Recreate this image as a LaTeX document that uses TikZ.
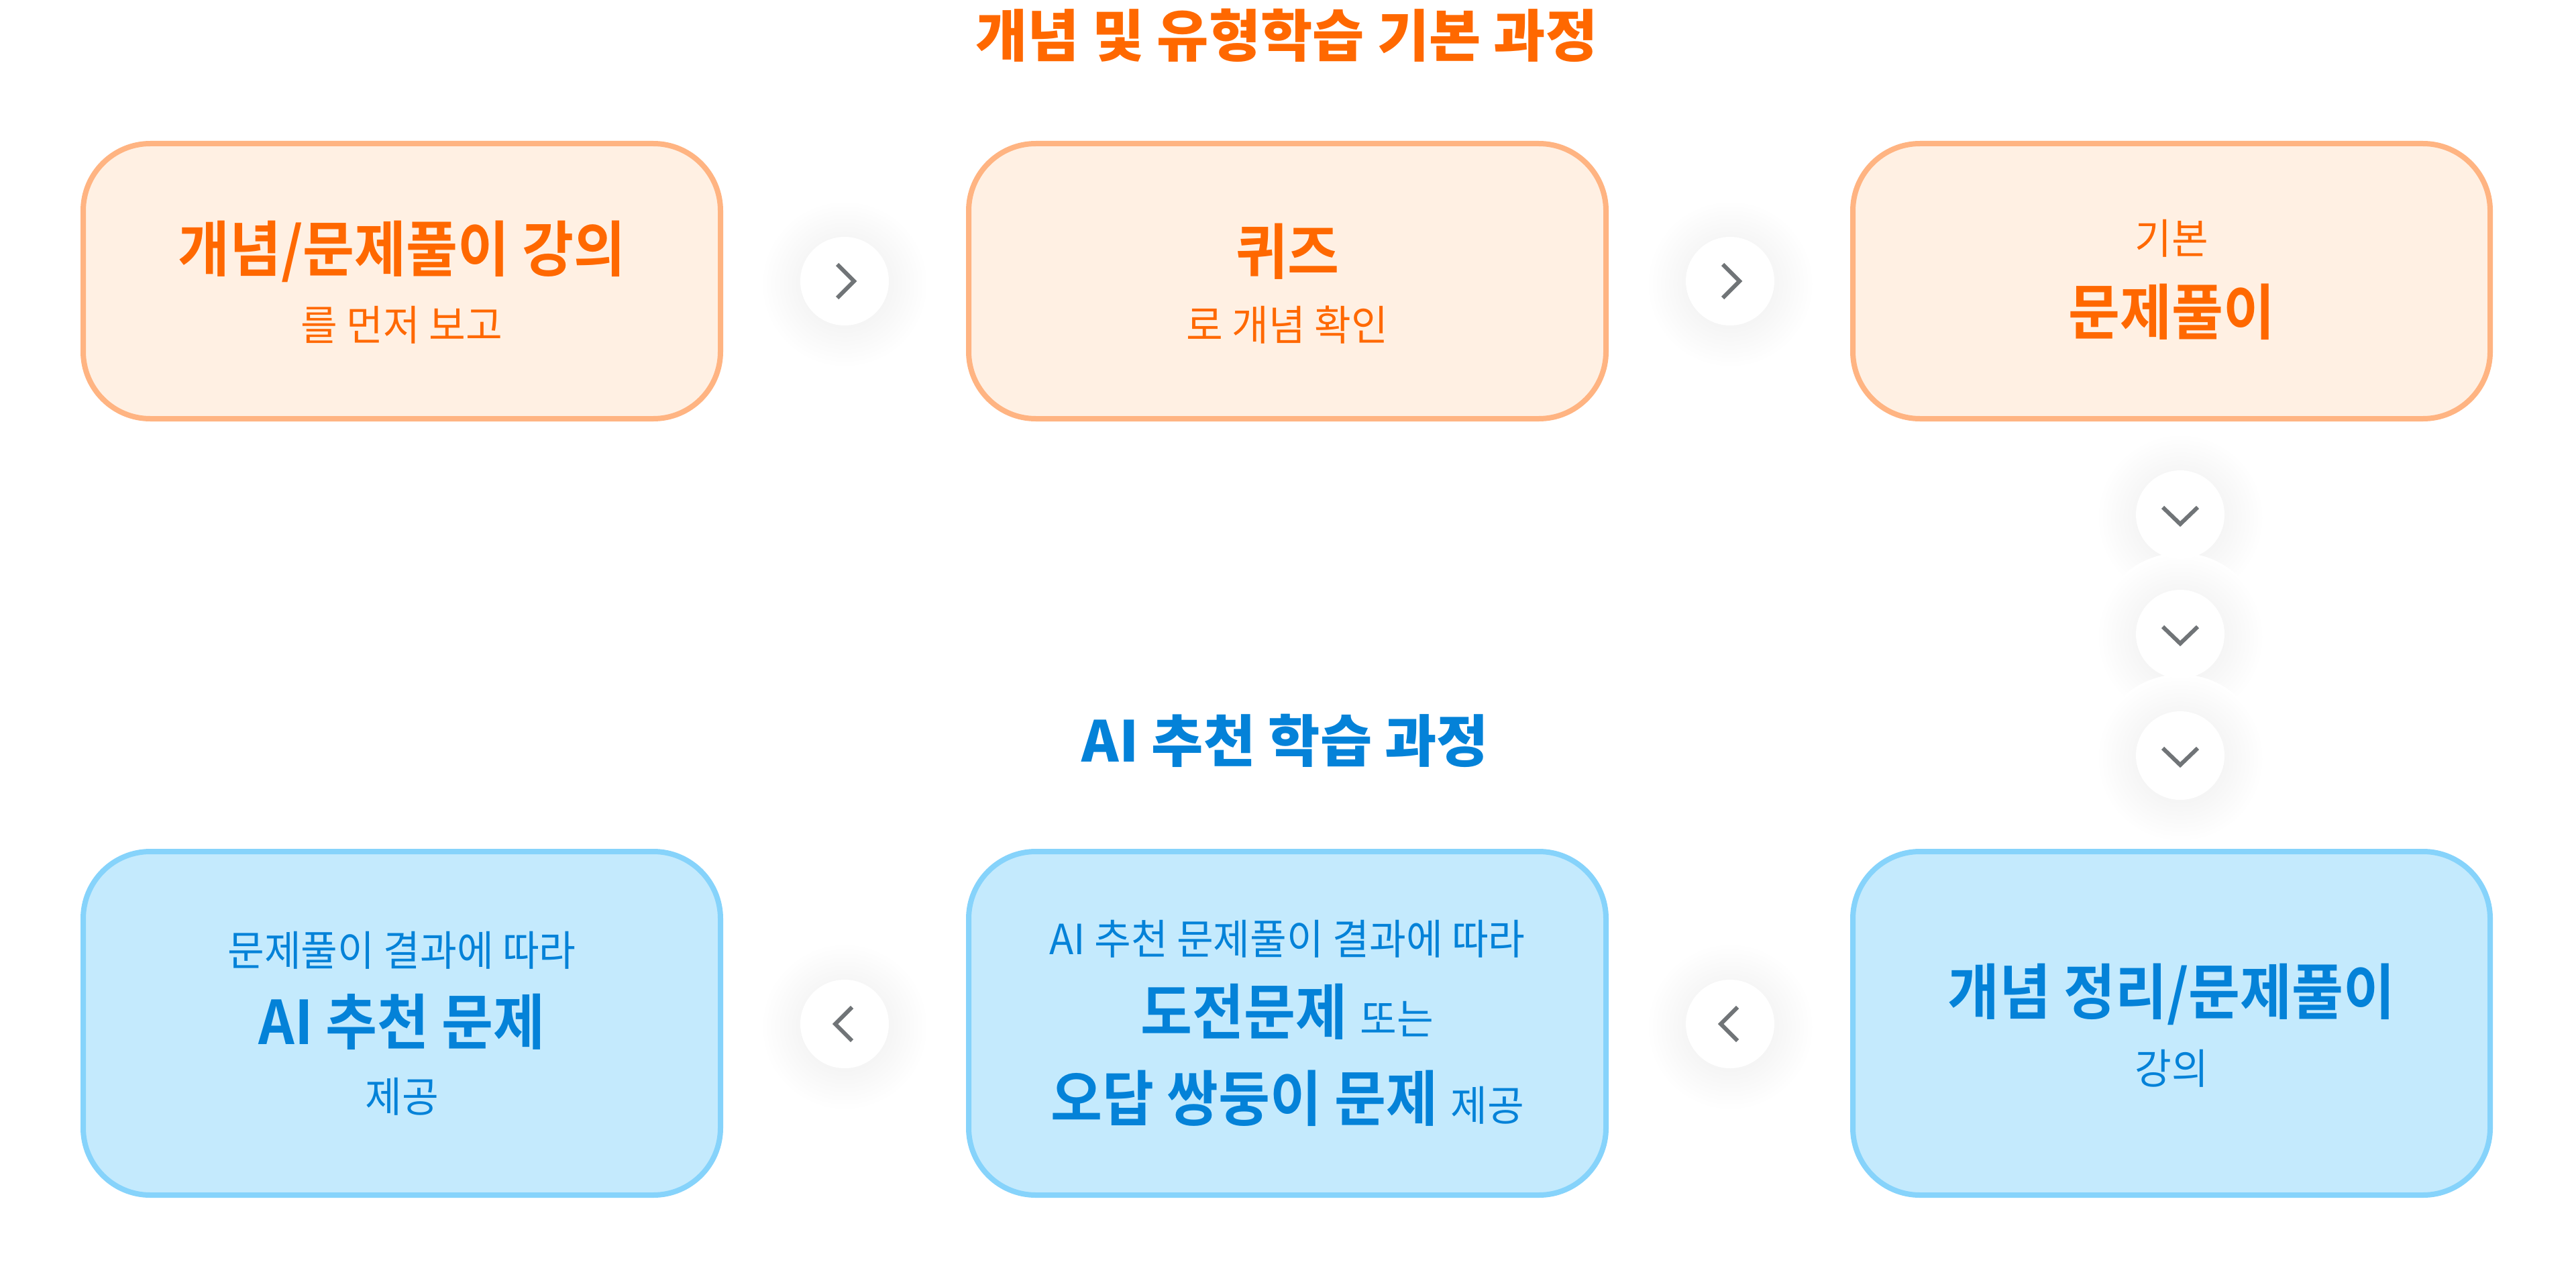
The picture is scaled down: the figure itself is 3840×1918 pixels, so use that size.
\documentclass[tikz,border=0pt]{standalone}
\usepackage{fontspec}
\usetikzlibrary{calc}
\newfontfamily\krR{Noto Sans CJK KR}[FakeStretch=0.96]
\newfontfamily\krB{Noto Sans CJK KR Bold}[FakeStretch=0.93]
\newfontfamily\krK{Noto Sans CJK KR Black}
\definecolor{otext}{RGB}{255,104,0}
\definecolor{ofill}{RGB}{255,240,227}
\definecolor{obord}{RGB}{255,180,130}
\definecolor{btext}{RGB}{4,130,216}
\definecolor{bfill}{RGB}{196,234,253}
\definecolor{bbord}{RGB}{134,211,251}
\definecolor{chevc}{RGB}{112,116,119}
\tikzset{
  obox/.style={draw=obord, fill=ofill, line width=8pt, rounded corners=100pt,
    minimum width=950pt, minimum height=410pt, inner sep=0pt},
  bbox/.style={draw=bbord, fill=bfill, line width=8pt, rounded corners=100pt,
    minimum width=950pt, minimum height=512pt, inner sep=0pt},
  big/.style={inner sep=0pt, font=\krB\fontsize{90}{90}\selectfont},
  small/.style={inner sep=0pt, font=\krR\fontsize{62}{62}\selectfont},
  ttl/.style={inner sep=0pt, font=\krK\fontsize{84}{84}\selectfont},
  btn/.style={circle, fill=white, minimum size=132pt, inner sep=0pt},
  chev/.style={draw=chevc, line width=6pt, line join=miter},
}
\newcommand{\btnshadow}[1]{\shade[inner color=black!8, outer color=white] ($(#1)+(0,4)$) circle (125pt);}
\begin{document}
\begin{tikzpicture}[x=1pt,y=-1pt]
\useasboundingbox (0,0) rectangle (3840,1918);
\fill[white] (0,0) rectangle (3840,1918);

% titles
\node[ttl, text=otext] (t1) at (1918,53) {개념 및 유형학습 기본 과정};
\node[ttl, text=btext] (t2) at (1916,1104) {AI 추천 학습 과정};

% boxes top
\node[obox] (a1) at (599,419) {};
\node[obox] (a2) at (1919,419) {};
\node[obox] (a3) at (3237,419) {};
% boxes bottom
\node[bbox] (c1) at (599,1525) {};
\node[bbox] (c2) at (1919,1525) {};
\node[bbox] (c3) at (3237,1525) {};

% texts top
\node[big, text=otext] (a1m) at (599,375) {개념/문제풀이 강의};
\node[small, text=otext] (a1s) at (599,484) {를 먼저 보고};
\node[big, text=otext] (a2m) at (1919,375) {퀴즈};
\node[small, text=otext] (a2s) at (1919,484) {로 개념 확인};
\node[small, text=otext] (a3s) at (3237,355) {기본};
\node[big, text=otext] (a3m) at (3237,465) {문제풀이};

% texts bottom
\node[small, text=btext] (c1a) at (599,1416) {문제풀이 결과에 따라};
\node[big, text=btext] (c1b) at (599,1523) {AI 추천 문제};
\node[small, text=btext] (c1c) at (599,1634) {제공};
\node[small, text=btext] (c2a) at (1919,1399) {AI 추천 문제풀이 결과에 따라};
\node[big, text=btext] (c2b) at (1919,1508) {도전문제 {\krR\fontsize{62}{62}\selectfont 또는}};
\node[big, text=btext] (c2c) at (1919,1637) {오답 쌍둥이 문제 {\krR\fontsize{62}{62}\selectfont 제공}};
\node[big, text=btext] (c3a) at (3237,1482) {개념 정리/문제풀이};
\node[small, text=btext] (c3b) at (3237,1592) {강의};

% buttons
\coordinate (pr1) at (1259,419);
\coordinate (pr2) at (2579,419);
\coordinate (pd1) at (3250,767);
\coordinate (pd2) at (3250,945);
\coordinate (pd3) at (3250,1126);
\coordinate (pl1) at (1259,1526);
\coordinate (pl2) at (2579,1526);
\foreach \p in {pr1,pr2,pd1,pd2,pd3,pl1,pl2} {\btnshadow{\p}}
\node[btn] (r1) at (pr1) {};
\node[btn] (r2) at (pr2) {};
\node[btn] (d1) at (pd1) {};
\node[btn] (d2) at (pd2) {};
\node[btn] (d3) at (pd3) {};
\node[btn] (l1) at (pl1) {};
\node[btn] (l2) at (pl2) {};
\foreach \n in {r1,r2} {\draw[chev] ($(\n)+(-11,-25)$) -- ($(\n)+(14,0)$) -- ($(\n)+(-11,25)$);}
\foreach \n in {l1,l2} {\draw[chev] ($(\n)+(11,-25)$) -- ($(\n)+(-14,0)$) -- ($(\n)+(11,25)$);}
\foreach \n in {d1,d2,d3} {\draw[chev] ($(\n)+(-26,-11)$) -- ($(\n)+(0,14)$) -- ($(\n)+(26,-11)$);}
\end{tikzpicture}
\end{document}
